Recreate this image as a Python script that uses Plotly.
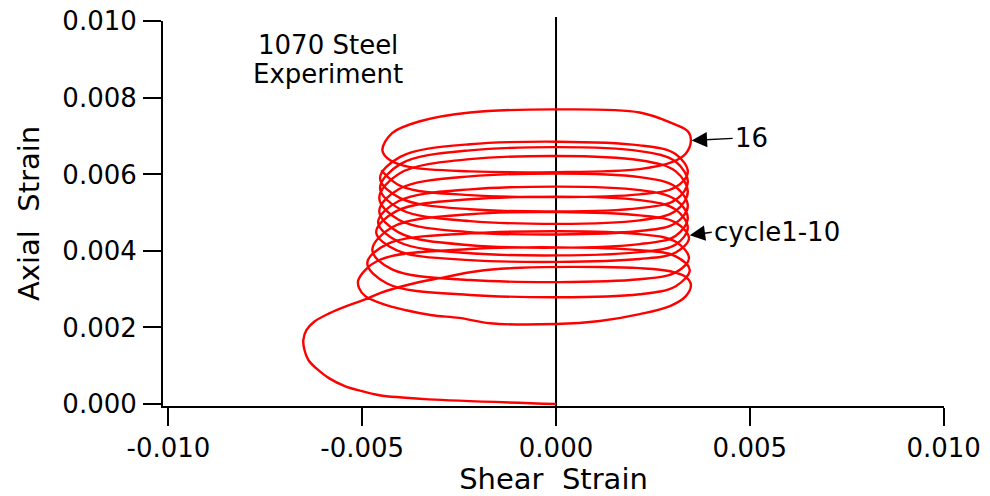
import plotly.graph_objects as go

# Shear / axial strain path: initial loading, then cycles 1-10 (one continuous record)
shear_c1_10 = [
    0.0, -0.00328, -0.00397, -0.00456, -0.00506, -0.00545, -0.00585, -0.00614,
    -0.00639, -0.00649, -0.00652, -0.00644, -0.00624, -0.00585, -0.00535, -0.00496,
    # cycle 1
    -0.00454, -0.00376, -0.00299, -0.00204, -0.00093, 0.00113, 0.00216, 0.00294, 0.00335, 0.00348,
    0.00335, 0.00294, 0.00216, 0.00113, 0.0, -0.00170, -0.00250, -0.00320, -0.00387, -0.00446,
    -0.00492, -0.00508, -0.00510,
    # cycle 2
    -0.00459, -0.00222, 0.00216, 0.00309, 0.00345, 0.00309, 0.00216, -0.00222, -0.00436, -0.00487,
    # cycle 3
    -0.00436, -0.00222, 0.00216, 0.00309, 0.00343, 0.00309, 0.00216, -0.00222, -0.00423, -0.00474,
    # cycle 4
    -0.00423, -0.00222, 0.00216, 0.00309, 0.00343, 0.00309, 0.00216, -0.00222, -0.00412, -0.00464,
    # cycle 5
    -0.00412, -0.00222, 0.00216, 0.00309, 0.00340, 0.00309, 0.00216, -0.00222, -0.00407, -0.00459,
    # cycle 6
    -0.00407, -0.00222, 0.00216, 0.00309, 0.00340, 0.00309, 0.00216, -0.00222, -0.00405, -0.00456,
    # cycle 7
    -0.00405, -0.00222, 0.00216, 0.00309, 0.00340, 0.00309, 0.00216, -0.00222, -0.00405, -0.00456,
    # cycle 8
    -0.00405, -0.00222, 0.00216, 0.00309, 0.00340, 0.00309, 0.00216, -0.00222, -0.00402, -0.00454,
    # cycle 9
    -0.00402, -0.00222, 0.00216, 0.00309, 0.00340, 0.00309, 0.00216, -0.00222, -0.00402, -0.00454,
    # cycle 10
    -0.00402, -0.00222, 0.00216, 0.00309, 0.00340, 0.00309, 0.00216, -0.00222, -0.00399, -0.00451,
]
axial_c1_10 = [
    0.0, 0.00012, 0.00017, 0.00023, 0.00035, 0.00047, 0.00067, 0.00089,
    0.00115, 0.00141, 0.00167, 0.00193, 0.00215, 0.00237, 0.00258, 0.00272,
    # cycle 1
    0.00290, 0.00313, 0.00329, 0.00347, 0.00356, 0.00358, 0.00355, 0.00347, 0.00332, 0.00311,
    0.00282, 0.00256, 0.00235, 0.00217, 0.00209, 0.00211, 0.00225, 0.00232, 0.00245, 0.00261,
    0.00282, 0.00303, 0.00324,
    # cycle 2
    0.00375, 0.00405, 0.00402, 0.00386, 0.00350, 0.00308, 0.00287, 0.00285, 0.00315, 0.00368,
    # cycle 3
    0.00418, 0.00446, 0.00444, 0.00424, 0.00381, 0.00344, 0.00326, 0.00324, 0.00352, 0.00402,
    # cycle 4
    0.00462, 0.00496, 0.00493, 0.00474, 0.00433, 0.00396, 0.00379, 0.00376, 0.00402, 0.00449,
    # cycle 5
    0.00504, 0.00535, 0.00533, 0.00508, 0.00460, 0.00417, 0.00397, 0.00394, 0.00424, 0.00475,
    # cycle 6
    0.00530, 0.00561, 0.00559, 0.00534, 0.00486, 0.00440, 0.00418, 0.00415, 0.00448, 0.00504,
    # cycle 7
    0.00562, 0.00595, 0.00593, 0.00567, 0.00517, 0.00473, 0.00452, 0.00449, 0.00481, 0.00538,
    # cycle 8
    0.00602, 0.00640, 0.00637, 0.00608, 0.00554, 0.00505, 0.00480, 0.00478, 0.00509, 0.00564,
    # cycle 9
    0.00627, 0.00663, 0.00661, 0.00633, 0.00580, 0.00534, 0.00512, 0.00509, 0.00538, 0.00590,
    # cycle 10
    0.00646, 0.00679, 0.00676, 0.00653, 0.00606, 0.00567, 0.00548, 0.00546, 0.00569, 0.00611,
]

# Cycle 16
shear_c16 = [-0.00448, -0.00423, -0.00351, -0.00222, 0.0, 0.00216, 0.00299, 0.00340, 0.00348,
             0.00335, 0.00299, 0.00216, 0.0, -0.00222, -0.00376, -0.00428, -0.00448]
axial_c16 = [0.00663, 0.00708, 0.00739, 0.00762, 0.00770, 0.00762, 0.00734, 0.00713, 0.00689,
             0.00655, 0.00632, 0.00614, 0.00606, 0.00608, 0.00619, 0.00637, 0.00663]

x_tickvals = [-0.010, -0.005, 0.000, 0.005, 0.010]
x_ticktext = ["-0.010", "-0.005", "0.000", "0.005", "0.010"]
y_tickvals = [0.000, 0.002, 0.004, 0.006, 0.008, 0.010]
y_ticktext = ["0.000", "0.002", "0.004", "0.006", "0.008", "0.010"]

FONT = "DejaVu Sans"
RED = "#ff0000"

fig = go.Figure()
for xs, ys in ((shear_c1_10, axial_c1_10), (shear_c16, axial_c16)):
    fig.add_trace(go.Scatter(x=xs, y=ys, mode="lines",
                             line=dict(color=RED, width=2.4, shape="spline", smoothing=1.0),
                             showlegend=False, hoverinfo="skip"))

# vertical reference line at zero shear
fig.add_shape(type="line", xref="x", yref="paper", x0=0, x1=0, y0=0, y1=1.0104,
              line=dict(color="black", width=2), layer="below")

axis_common = dict(showgrid=False, zeroline=False, showline=True, linecolor="black",
                   linewidth=2, ticks="outside", ticklen=18, tickwidth=2, tickcolor="black",
                   tickfont=dict(family=FONT, size=26, color="black"),
                   tickmode="array", automargin=False)
title_font = dict(family=FONT, size=29, color="black")

fig.update_xaxes(range=[-0.01014, 0.01001], tickvals=x_tickvals, ticktext=x_ticktext,
                 ticklabelstandoff=0,
                 title=dict(text="Shear\u00a0 Strain", font=title_font, standoff=0),
                 **axis_common)
fig.update_yaxes(range=[-0.0000522, 0.01001], tickvals=y_tickvals, ticktext=y_ticktext,
                 ticklabelstandoff=1,
                 title=dict(text="Axial\u00a0 Strain", font=title_font, standoff=14),
                 **axis_common)

ann_font = dict(family=FONT, size=26, color="black")
fig.add_annotation(xref="paper", yref="paper", x=0.2113, y=0.9377, text="1070 Steel",
                   showarrow=False, font=ann_font, xanchor="center", yanchor="middle")
fig.add_annotation(xref="paper", yref="paper", x=0.2113, y=0.862, text="Experiment",
                   showarrow=False, font=ann_font, xanchor="center", yanchor="middle")
fig.add_annotation(x=0.00350, y=0.00689, xref="x", yref="y", text="16",
                   showarrow=True, axref="pixel", ayref="pixel", ax=41, ay=-2,
                   xanchor="left", yanchor="middle", font=ann_font,
                   arrowhead=2, arrowsize=2.2, arrowwidth=1.4, arrowcolor="black")
fig.add_annotation(x=0.00345, y=0.00441, xref="x", yref="y", text="cycle1-10",
                   showarrow=True, axref="pixel", ayref="pixel", ax=22, ay=-3,
                   xanchor="left", yanchor="middle", font=ann_font,
                   arrowhead=2, arrowsize=2.2, arrowwidth=1.4, arrowcolor="black")

fig.update_layout(width=990, height=496, margin=dict(l=163, r=46, t=21, b=90),
                  paper_bgcolor="white", plot_bgcolor="white",
                  font=dict(family=FONT, color="black"))

fig.write_html("out.html")
